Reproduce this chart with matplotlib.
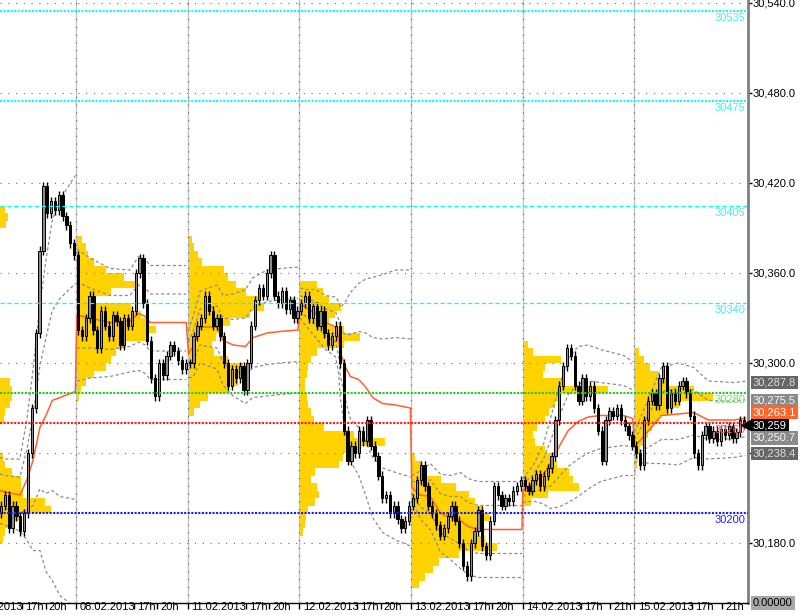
import numpy as np
import matplotlib
matplotlib.use('Agg')
import matplotlib.pyplot as plt
from matplotlib import transforms

plt.rcParams['font.family'] = ['Liberation Sans', 'DejaVu Sans']

# sessions on the chart (first one is cut by the left edge)
days = ['07.02.2013', '08.02.2013', '11.02.2013', '12.02.2013',
        '13.02.2013', '14.02.2013', '15.02.2013']
session_len = 14.5          # hours shown per session
bar_step = 0.5              # 30 min bars
first_bar = [9, 0, 0, 0, 0, 0, 0]

# closes per session
closes = [
    [30205, 30212, 30190, 30205, 30198, 30188, 30200, 30240, 30270, 30320,
     30375, 30418, 30400, 30408, 30402, 30412, 30398, 30392, 30380, 30372],
    [30322, 30318, 30330, 30345, 30322, 30310, 30335, 30325, 30318, 30332,
     30328, 30312, 30330, 30325, 30335, 30360, 30370, 30340, 30315, 30290,
     30278, 30300, 30292, 30305, 30312, 30308, 30302, 30296, 30300],
    [30300, 30318, 30325, 30330, 30345, 30335, 30325, 30330, 30318, 30300,
     30285, 30296, 30290, 30298, 30282, 30300, 30325, 30342, 30350, 30345,
     30360, 30372, 30345, 30340, 30348, 30336, 30342, 30330, 30335],
    [30340, 30345, 30330, 30338, 30325, 30335, 30320, 30312, 30318, 30325,
     30300, 30255, 30235, 30245, 30240, 30255, 30248, 30262, 30245, 30238,
     30225, 30210, 30212, 30200, 30205, 30196, 30190, 30195, 30205],
    [30210, 30222, 30232, 30218, 30205, 30200, 30192, 30185, 30190, 30198,
     30205, 30195, 30180, 30165, 30158, 30180, 30188, 30202, 30178, 30172,
     30195, 30218, 30212, 30205, 30210, 30208, 30215, 30218, 30222],
    [30218, 30215, 30222, 30226, 30218, 30225, 30230, 30238, 30262, 30285,
     30298, 30310, 30305, 30285, 30275, 30290, 30278, 30285, 30270, 30255,
     30235, 30262, 30268, 30265, 30270, 30262, 30258, 30252, 30245],
    [30240, 30232, 30262, 30275, 30280, 30272, 30290, 30298, 30270, 30280,
     30275, 30285, 30288, 30280, 30265, 30240, 30232, 30252, 30258, 30250,
     30255, 30248, 30256, 30252, 30258, 30250, 30254, 30262, 30259],
]
first_open = 30200

# session vwap and deviation (hours from session start)
vwap_t = [
    [4.6, 5.3, 7.2, 8.1, 8.9, 9.8, 10.6, 11.4, 12.4, 14.4],
    [0.1, 1.8, 4.4, 7.0, 8.1, 9.0, 9.6, 14.3],
    [0.1, 0.7, 1.6, 3.8, 4.6, 5.9, 7.5, 8.5, 10.3, 12.0, 14.3],
    [0.1, 0.8, 2.1, 3.4, 4.7, 5.1, 5.3, 6.0, 6.6, 7.7, 8.6, 9.5, 10.8, 12.5, 14.4],
    [0.1, 1.2, 2.5, 3.8, 5.1, 6.4, 7.4, 8.7, 10.3, 14.4],
    [0.0, 1.4, 2.7, 3.6, 4.7, 5.9, 7.2, 8.5, 10.1, 13.1, 14.3],
    [0.0, 2.2, 3.5, 5.7, 7.7, 9.6, 12.9, 14.4],
]
vwap_p = [
    [30215, 30214, 30212, 30222, 30235, 30257, 30265, 30275, 30277, 30281],
    [30332, 30330, 30327, 30328, 30333, 30331, 30327, 30327],
    [30306, 30311, 30324, 30324, 30315, 30312, 30311, 30317, 30320, 30321, 30322],
    [30340, 30337, 30333, 30327, 30324, 30317, 30307, 30297, 30291, 30289,
     30284, 30277, 30273, 30272, 30270],
    [30217, 30212, 30211, 30200, 30197, 30195, 30191, 30189, 30189, 30189],
    [30215, 30220, 30226, 30233, 30244, 30255, 30261, 30264, 30265, 30265, 30263],
    [30244, 30257, 30265, 30266, 30267, 30262, 30262, 30263.1],
]
sigma = [
    [11, 11, 12, 20, 30, 41, 52, 60, 66, 72],
    [22, 20, 18, 17, 19, 19, 19, 19],
    [8, 10, 12, 14, 15, 17, 19, 20, 21, 21, 21],
    [5, 6, 8, 9, 10, 12, 15, 22, 28, 32, 36, 40, 43, 45, 46],
    [4, 8, 11, 13, 14, 16, 16, 16, 16, 16],
    [4, 6, 10, 15, 20, 24, 25, 24, 22, 20, 19],
    [5, 12, 16, 17, 15, 13, 12.5, 12.35],
]

# volume profiles, 5 point bins from prof_lo upward
prof_bin = 5
prof_lo = [30180, 30275, 30265, 30185, 30150, 30205, 30225]
prof_vol = [
    [39, 41, 44, 56, 86, 80, 58, 56, 56, 48, 41, 39, 0, 0, 0, 0, 40, 41, 46, 48,
     48, 46, 0, 0, 0, 0, 0, 0, 0, 0, 0, 0, 0, 0, 0, 0, 0, 0, 0, 0, 0, 0, 42, 44, 41],
    [3, 5, 10, 18, 30, 35, 40, 50, 70, 80, 72, 65, 55, 20, 35, 62, 48, 30, 18,
     12, 10, 6],
    [6, 12, 20, 40, 50, 62, 55, 40, 26, 24, 28, 34, 42, 62, 76, 70, 58, 48, 40,
     36, 14, 10, 6, 4],
    [4, 6, 7, 9, 16, 20, 18, 12, 16, 40, 44, 60, 85, 55, 25, 15, 12, 9, 8, 6, 6,
     8, 9, 12, 18, 45, 60, 45, 30, 36, 42, 30, 24, 18],
    [8, 14, 22, 28, 48, 86, 74, 66, 70, 78, 72, 64, 58, 45, 30, 15, 10, 4],
    [8, 25, 56, 50, 46, 34, 30, 22, 12, 10, 14, 22, 26, 32, 38, 85, 40, 20, 22,
     38, 10, 5],
    [2, 3, 4, 6, 10, 14, 18, 25, 35, 45, 78, 60, 34, 24, 16, 10, 5],
]
vol_to_hours = 1 / 7.69

# horizontal levels
levels = [30535, 30475, 30405, 30340, 30280, 30260, 30200]
level_colors = ['#00ffff', '#00ffff', '#00ffff', '#00ffff', '#1ecc1e', '#ff1a1a', '#1a1aff']
level_text = ['#40f0f0', '#40f0f0', '#40f0f0', '#40f0f0', '#70dd70', '#ff6060', '#2020ff']
level_thick = [True, True, False, False, True, True, True]

price_ticks = [30540, 30480, 30420, 30360, 30300, 30240, 30180]

# right side value boxes (nudged in pixels so they do not pile up)
box_vals = [30287.8, 30275.5, 30263.1, 30259, 30250.7, 30238.4]
box_text = ['30,287.8', '30,275.5', '30,263.1', '30,259', '30,250.7', '30,238.4']
box_bg = ['#666666', '#8a8a8a', '#ff6428', '#000000', '#8a8a8a', '#666666']
box_fg = ['#dcdcdc', '#f4f4f4', '#ffffff', '#ffffff', '#f4f4f4', '#dcdcdc']
box_nudge = [-1, -1, 6, -1, -1, 2]

# hour ticks inside each session
hour_ticks = [[('17h', 7.5), ('20h', 10.53)]] * 5 + [[('17h', 7.5), ('21h', 11.38)]] * 2

X_LEFT, X_RIGHT = 4.62, 101.75
Y_LOW, Y_HIGH = 30140, 30542

fig = plt.figure(figsize=(8, 6.15), dpi=100)
ax = fig.add_axes([0, 12 / 615, 748 / 800, 603 / 615])

# profiles
for k in range(len(days)):
    start = k * session_len
    vols = np.array(prof_vol[k]) * vol_to_hours
    centers = prof_lo[k] + prof_bin * np.arange(len(vols)) + prof_bin / 2
    ax.barh(centers, vols, height=prof_bin, left=start, color='#ffd200',
            linewidth=0, zorder=1)

# grid
for p in price_ticks:
    ax.axhline(p, color='#707070', lw=0.8, ls=(0, (1, 6)), zorder=2)
for k in range(1, len(days)):
    ax.axvline(k * session_len, color='#c4c4c4', lw=1.0, zorder=1.5)
    ax.axvline(k * session_len, color='#606060', lw=0.8, ls=(0, (1, 6)), zorder=2)

# bands
for k in range(len(days)):
    t = k * session_len + np.array(vwap_t[k])
    v = np.array(vwap_p[k])
    s = np.array(sigma[k])
    for m in (-2, -1, 1, 2):
        ax.plot(t, v + m * s, color='#8c8c8c', lw=0.9, ls=(0, (2.5, 2)), zorder=3)

# vwap, continuous across sessions
vx = np.concatenate([k * session_len + np.array(vwap_t[k]) for k in range(len(days))])
vy = np.concatenate([np.array(vwap_p[k], dtype=float) for k in range(len(days))])
ax.plot(vx, vy, color='#ff6030', lw=1.1, zorder=4)

# candles
bx, bc = [], []
for k in range(len(days)):
    for i, c in enumerate(closes[k]):
        bx.append(k * session_len + (first_bar[k] + i) * bar_step + 0.25)
        bc.append(c)
bx = np.array(bx)
bc = np.array(bc, dtype=float)
bo = np.concatenate([[first_open], bc[:-1]])
top = np.maximum(bo, bc)
bot = np.minimum(bo, bc)
wick = 3
ax.vlines(bx, bot - wick, top + wick, color='black', lw=1.0, zorder=5)
up = bc >= bo
body_h = np.maximum(top - bot, 0.8)
ax.bar(bx[up], body_h[up], bottom=bot[up], width=0.3, color='#8c8c8c',
       edgecolor='black', linewidth=0.7, zorder=6)
ax.bar(bx[~up], body_h[~up], bottom=bot[~up], width=0.3, color='black',
       edgecolor='black', linewidth=0.7, zorder=6)

# levels
for lv, col, tcol, thick in zip(levels, level_colors, level_text, level_thick):
    if thick:
        ax.axhline(lv, color=col, lw=1.5, ls=(0, (1, 0.7)), zorder=7)
    else:
        ax.axhline(lv, color=col, lw=0.9, ls=(0, (3.5, 2)), zorder=7)
    ax.annotate(str(lv), xy=(X_RIGHT, lv), xytext=(-2, -1.5), textcoords='offset points',
                ha='right', va='top', fontsize=8, color=tcol, zorder=8)

# axes look
for side in ('left', 'top'):
    ax.spines[side].set_visible(False)
ax.spines['right'].set_color('#808080')
ax.spines['right'].set_linewidth(2.0)
ax.spines['bottom'].set_color('black')
ax.spines['bottom'].set_linewidth(1.0)

ax.yaxis.tick_right()
ax.set_yticks(price_ticks)
ax.set_yticklabels(['{:,.1f}'.format(p) for p in price_ticks])
ax.tick_params(axis='y', length=3, width=1, pad=0.5, labelsize=8, colors='black')

# time axis: tick marks plus labels written just right of each mark
xt, xl = [], []
for k in range(len(days)):
    xt.append(k * session_len)
    xl.append(days[k])
    for lab, off in hour_ticks[k]:
        xt.append(k * session_len + off)
        xl.append(lab)
ax.set_xticks(xt)
ax.set_xticklabels([])
ax.tick_params(axis='x', length=4, width=1, colors='black')

# limits after the ticks, so the off-screen first tick does not widen the view
ax.set_xlim(X_LEFT, X_RIGHT)
ax.set_ylim(Y_LOW, Y_HIGH)

for x, lab in zip(xt, xl):
    ax.annotate(lab, xy=(x, Y_LOW), xycoords='data', xytext=(2.4, 0.9),
                textcoords='offset points', ha='left', va='top', fontsize=8,
                color='black', annotation_clip=False)

# right value boxes
trans_r = transforms.blended_transform_factory(ax.transAxes, ax.transData)
for val, txt, bg, fg, dy in zip(box_vals, box_text, box_bg, box_fg, box_nudge):
    off = transforms.ScaledTranslation(5 / 100, dy / 100, fig.dpi_scale_trans)
    ax.text(1.0, val, txt, transform=trans_r + off, ha='left', va='center',
            fontsize=8, color=fg, clip_on=False, zorder=10,
            bbox=dict(boxstyle='square,pad=0.15', fc=bg, ec='none'))
ax.plot([0.997], [box_vals[3]], marker='<', ms=7, color='black', transform=trans_r,
        clip_on=False, zorder=10)

box_shift = transforms.ScaledTranslation(5 / 100, 0, fig.dpi_scale_trans)
ax.text(1.0, 0.0, '0.00000', transform=ax.transAxes + box_shift, ha='left', va='center',
        fontsize=8, color='black', clip_on=False,
        bbox=dict(boxstyle='square,pad=0.2', fc='#a8a8a8', ec='none'))

fig.savefig('out.png', dpi=100)
